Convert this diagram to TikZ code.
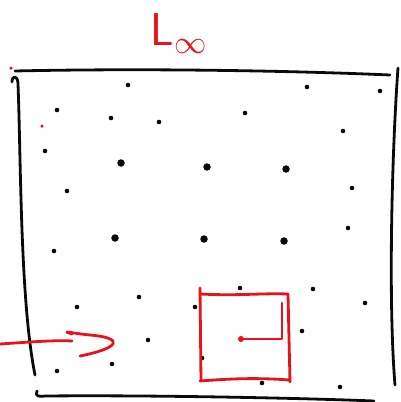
\documentclass[tikz,border=0pt]{standalone}
\usepackage{tikz}
\usetikzlibrary{positioning}
\definecolor{SketchInk}{HTML}{0A0A0A}
\definecolor{SketchRed}{HTML}{E8121C}
\tikzset{
  sketch/frame/.style={
    draw=SketchInk, line width=2.8pt, line cap=round, line join=round
  },
  sketch/dot/.style={circle, fill=SketchInk, inner sep=0pt, minimum size=4.6pt},
  sketch/bigdot/.style={sketch/dot, minimum size=7.5pt},
  sketch/reddot/.style={circle, fill=SketchRed, inner sep=0pt, minimum size=3.5pt},
  sketch/red/.style={
    draw=SketchRed, line width=2.8pt, line cap=round, line join=round
  },
  sketch/label/.style={text=SketchRed, inner sep=0pt,
    font=\fontsize{46}{46}\selectfont\sffamily}
}

\begin{document}
\begin{tikzpicture}[x=1pt,y=-1pt]
  \useasboundingbox (0,0) rectangle (400,402);
  % title
  \node[sketch/label,anchor=base west] (title) at (150,45)
    {L\kern1pt\raisebox{-8pt}{\fontsize{24}{24}\selectfont\scalebox{1.3}{$\infty$}}};
  % rough frame
  \draw[sketch/frame] (15,71) .. controls (150,68) and (300,71) .. (390,75);
  \draw[sketch/frame] (12,82) .. controls (12,75) and (18,75) .. (18,84)
    .. controls (21,160) and (20,300) .. (35,375);
  \draw[sketch/frame] (398,68) .. controls (392,150) and (388,300) .. (395,385);
  \draw[sketch/frame] (37,391) .. controls (35,396) and (38,397) .. (45,396)
    .. controls (150,395) and (300,398) .. (374,401);
  % scattered points
  \foreach \p [count=\i] in {(128,85),(307,87),(380,91),(57,110),(111,118),
      (159,122),(245,113),(343,131),(45,151),(67,191),(352,188),(348,228),
      (54,251),(240,288),(313,289),(139,297),(77,307),(195,307),(365,303),
      (302,331),(148,340),(202,358),(112,364),(57,371),(262,383),(340,387)}
    \node[sketch/dot] (pt\i) at \p {};
  \foreach \p [count=\i] in {(121,163),(207,167),(286,169),(115,238),(204,239),(284,241)}
    \node[sketch/bigdot] (big\i) at \p {};
  \node[sketch/reddot] (stray1) at (11,68) {};
  \node[sketch/reddot] (stray2) at (42,126) {};
  % red cell with its centre
  \draw[sketch/red] (200,288) -- (201,381)
    (200,294) .. controls (240,296) and (260,293) .. (288,294) -- (290,382)
    (200,381) .. controls (240,378) and (260,378) .. (290,380);
  \node[circle, fill=SketchRed, inner sep=0pt, minimum size=6pt] (centre) at (241,339) {};
  \coordinate (corner) at (282,339);
  \coordinate (cornertop) at (282,303);
  \draw[sketch/red] (centre) -- (corner) -- (cornertop);
  % incoming arrow
  \coordinate (arrowin) at (0,344);
  \coordinate (arrowend) at (72,341);
  \draw[sketch/red] (arrowin) .. controls (30,342) and (55,340) .. (arrowend);
  \draw[sketch/red] (72,334) .. controls (60,330) and (70,333) .. (90,335)
    .. controls (125,338) and (120,348) .. (80,356);
\end{tikzpicture}
\end{document}
